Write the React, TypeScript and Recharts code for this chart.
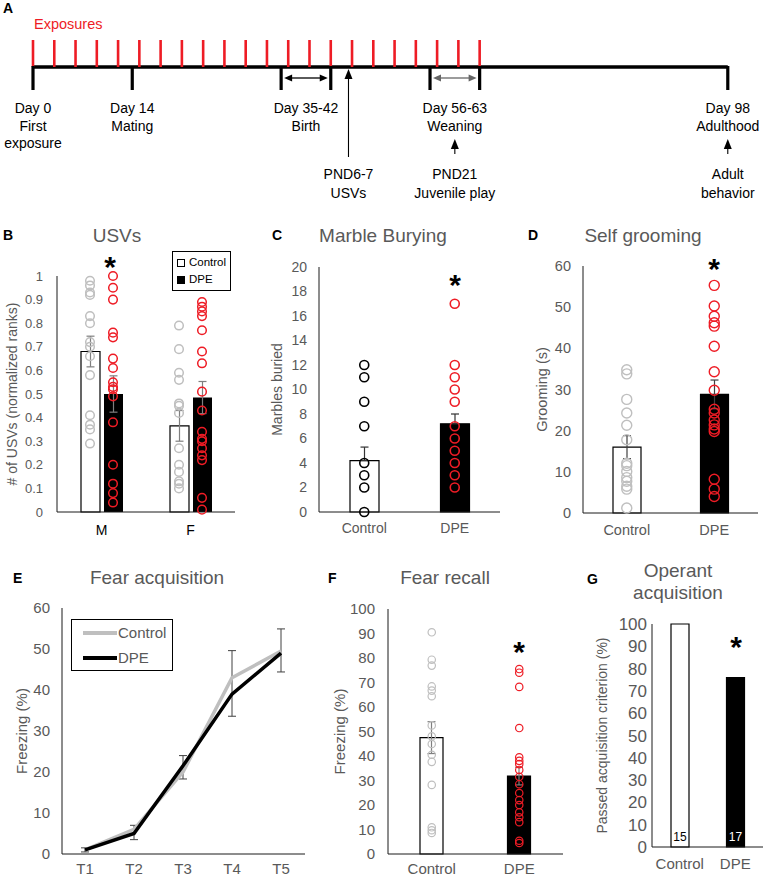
import React from 'react';
import {
  ComposedChart, Bar, Line, Scatter, XAxis, YAxis, ErrorBar, Cell,
  ReferenceLine, ReferenceArea, Legend, LabelList,
} from 'recharts';

const FONT = '"Liberation Sans", Arial, Helvetica, sans-serif';
const TXT = '#595959';
const AXIS = '#1a1a1a';
const RED = '#ee1c25';
const GREY = '#bfbfbf';

// A: timeline (days)
const exposureDays = [0, 3, 6, 9, 12, 15, 18, 21, 24, 27, 30, 33, 36, 39, 42, 45, 48, 51, 54, 57, 60, 63];
const milestoneDays = [0, 14, 35, 42, 56, 63, 98];
const milestoneText = [
  { day: 0, lines: ['Day 0', 'First', 'exposure'] },
  { day: 14, lines: ['Day 14', 'Mating'] },
  { day: 38.5, lines: ['Day 35-42', 'Birth'] },
  { day: 59.5, lines: ['Day 56-63', 'Weaning'] },
  { day: 98, lines: ['Day 98', 'Adulthood'] },
];
const windowDays = [[35, 42], [56, 63]];
const testText = [
  { day: 44.5, lines: ['PND6-7', 'USVs'] },
  { day: 59.5, lines: ['PND21', 'Juvenile play'] },
  { day: 98, lines: ['Adult', 'behavior'] },
];

// B: USVs
const usvGroups = ['M', 'F'];
const usvControlMean = [0.68, 0.365];
const usvDpeMean = [0.5, 0.485];
const usvControlSem = [0.065, 0.065];
const usvDpeSem = [0.077, 0.068];
const usvControlM = [0.98, 0.96, 0.93, 0.92, 0.83, 0.8, 0.72, 0.7, 0.66, 0.58, 0.41, 0.37, 0.35, 0.29];
const usvDpeM = [1, 0.95, 0.9, 0.76, 0.74, 0.65, 0.61, 0.55, 0.53, 0.52, 0.49, 0.38, 0.2, 0.12, 0.08, 0.04];
const usvControlF = [0.79, 0.69, 0.59, 0.56, 0.46, 0.45, 0.42, 0.27, 0.2, 0.17, 0.13, 0.12, 0.1];
const usvDpeF = [0.89, 0.87, 0.85, 0.83, 0.77, 0.68, 0.63, 0.51, 0.43, 0.34, 0.31, 0.3, 0.27, 0.24, 0.22, 0.06, 0.01];
const usvTicks = [0, 0.1, 0.2, 0.3, 0.4, 0.5, 0.6, 0.7, 0.8, 0.9, 1];

// C, D, F, G share the two groups
const groups = ['Control', 'DPE'];

// C: marble burying
const marbleMean = [4.2, 7.2];
const marbleSem = [[0, 1.1], [0, 0.8]];
const marbleControl = [12, 11, 9, 7, 4, 3, 2, 0];
const marbleDpe = [17, 12, 11, 10, 9, 7, 6, 5, 4, 3, 2];
const marbleTicks = [0, 2, 4, 6, 8, 10, 12, 14, 16, 18, 20];

// D: self grooming
const groomMean = [16, 28.8];
const groomSem = [2.8, 3.5];
const groomControl = [34.8, 33.8, 27.6, 24.3, 21.3, 17.8, 12.1, 11.5, 10.1, 8.6, 7.7, 6.5, 5.8, 1.2];
const groomDpe = [55.3, 50.3, 47.8, 46.2, 45.4, 40.5, 34.3, 29.8, 25.2, 24.3, 22.6, 21.4, 20.4, 19.8, 8.2, 5.8, 4];
const sixtyTicks = [0, 10, 20, 30, 40, 50, 60];

// E: fear acquisition
const trials = ['T1', 'T2', 'T3', 'T4', 'T5'];
const fearControl = [1, 6, 20, 43, 49.5];
const fearDpe = [1, 5, 21.5, 39, 49];
const fearSem = [[0.5, 0.5], [2.5, 1], [1.7, 4], [9.4, 6.6], [5.1, 5.4]];

// F: fear recall
const recallMean = [47.5, 31.8];
const recallSem = [6.5, 3.6];
const recallControl = [90.5, 79.3, 76.9, 68.4, 66.7, 64.4, 52.5, 48, 44.9, 40.5, 37.6, 28.2, 10.9, 9.7, 8.6];
const recallDpe = [75.5, 74, 68.2, 51.4, 39.5, 38, 36.7, 34.3, 31.5, 28.5, 24.9, 22, 20, 17, 15, 13, 5.4, 4.5];
const hundredTicks = [0, 10, 20, 30, 40, 50, 60, 70, 80, 90, 100];

// G: operant acquisition
const passedPct = [100, 76];
const passedN = [15, 17];

const ring = (color: string, r: number, dx = 0, sw = 1.4) => (p: any) => (
  <circle cx={p.cx + dx} cy={p.cy} r={r} fill="none" stroke={color} strokeWidth={sw} />
);

const vLabel = (text: string, x: number, y: number, size: number) => () => (
  <text x={x} y={y} transform={`rotate(-90 ${x} ${y})`} textAnchor="middle"
    dominantBaseline="central" fontSize={size} fill={TXT}>{text}</text>
);

// ---------- A ----------
const RedTick = (p: any) => (
  <line x1={p.cx} x2={p.cx} y1={p.cy - 27} y2={p.cy} stroke={RED} strokeWidth={2.6} />
);
const BlackTick = (p: any) => (
  <line x1={p.cx} x2={p.cx} y1={p.cy - 1} y2={p.cy + 23} stroke="#000" strokeWidth={3.2} />
);
const Lines = ({ x, y, lines, step }: any) => (
  <g>
    {lines.map((s: string, i: number) => (
      <text key={i} x={x} y={y + i * step} textAnchor="middle" fontSize={14} fill="#000">{s}</text>
    ))}
  </g>
);
const MilestoneLabel = (p: any) => {
  const d = p.payload ?? p;
  return <Lines x={p.cx} y={p.cy + 46} lines={d.lines} step={17.5} />;
};
const TestMark = (p: any) => {
  const d = p.payload ?? p;
  const { cx, cy } = p;
  const toLine = !milestoneText.some((m) => Math.abs(m.day - d.day) < 2);
  const tip = toLine ? cy + 2 : cy + 72;
  const bottom = toLine ? cy + 90 : cy + 87;
  return (
    <g>
      <line x1={cx} x2={cx} y1={tip + 8} y2={bottom} stroke="#000" strokeWidth={1.1} />
      <polygon points={`${cx},${tip} ${cx - 4},${tip + 10} ${cx + 4},${tip + 10}`} fill="#000" />
      <Lines x={cx} y={cy + 112} lines={d.lines} step={19} />
    </g>
  );
};
const DoubleArrow = (color: string) => (p: any) => {
  const y = p.y + p.height + 11;
  const x1 = p.x + 3;
  const x2 = p.x + p.width - 3;
  return (
    <g>
      <line x1={x1 + 6} x2={x2 - 6} y1={y} y2={y} stroke={color} strokeWidth={1.3} />
      <polygon points={`${x1},${y} ${x1 + 8},${y - 3.5} ${x1 + 8},${y + 3.5}`} fill={color} />
      <polygon points={`${x2},${y} ${x2 - 8},${y - 3.5} ${x2 - 8},${y + 3.5}`} fill={color} />
    </g>
  );
};

function Timeline() {
  const exp = exposureDays.map((day) => ({ day, y: 0 }));
  const mil = milestoneDays.map((day) => ({ day, y: 0 }));
  const labs = milestoneText.map((m) => ({ ...m, y: 0 }));
  const tests = testText.map((t) => ({ ...t, y: 0 }));
  return (
    <div style={{ position: 'absolute', left: 0, top: 0 }}>
      <ComposedChart width={777} height={210} margin={{ top: 17, right: 40, bottom: 143, left: 33 }}>
        <XAxis type="number" dataKey="day" domain={[0, 99.3]} hide />
        <YAxis type="number" dataKey="y" domain={[0, 1]} hide />
        {windowDays.map((w, i) => (
          <ReferenceArea key={i} x1={w[0]} x2={w[1]} shape={DoubleArrow(i ? '#666' : '#000')} />
        ))}
        <Scatter data={exp} shape={RedTick} isAnimationActive={false} />
        <ReferenceLine segment={[{ x: 0, y: 0 }, { x: 98, y: 0 }]} stroke="#000" strokeWidth={3.3} />
        <Scatter data={mil} shape={BlackTick} isAnimationActive={false} />
        <Scatter data={labs} shape={MilestoneLabel} isAnimationActive={false} />
        <Scatter data={tests} shape={TestMark} isAnimationActive={false} />
      </ComposedChart>
    </div>
  );
}

// ---------- legends ----------
const BoxLegend = (props: any) => {
  const items = (props.payload || []).filter((e: any) => e.type !== 'none');
  return (
    <div style={{ border: '1.5px solid #000', padding: '2px 4px', background: '#fff', fontSize: 11.5, lineHeight: '17px', color: '#000' }}>
      {items.map((e: any) => (
        <div key={e.value} style={{ display: 'flex', alignItems: 'center' }}>
          <span style={{ display: 'inline-block', width: 6, height: 6, border: '1.5px solid #000', background: e.color, marginRight: 4 }} />
          {e.value}
        </div>
      ))}
    </div>
  );
};

const LineLegend = (props: any) => {
  const items = (props.payload || []).filter((e: any) => e.type !== 'none');
  return (
    <div style={{ border: '1px solid #000', padding: '0 6px 0 11px', background: '#fff', fontSize: 15, lineHeight: '25px', color: TXT }}>
      {items.map((e: any) => (
        <div key={e.value} style={{ display: 'flex', alignItems: 'center' }}>
          <span style={{ display: 'inline-block', width: 34, height: 4, background: e.color, marginRight: 1 }} />
          {e.value}
        </div>
      ))}
    </div>
  );
};

// ---------- B ----------
function UsvChart() {
  const rows = usvGroups.map((g, i) => ({
    g, control: usvControlMean[i], dpe: usvDpeMean[i], cSem: usvControlSem[i], dSem: usvDpeSem[i],
  }));
  const cPts = [...usvControlM.map((v) => ({ g: 'M', v })), ...usvControlF.map((v) => ({ g: 'F', v }))];
  const dPts = [...usvDpeM.map((v) => ({ g: 'M', v })), ...usvDpeF.map((v) => ({ g: 'F', v }))];
  return (
    <div style={{ position: 'absolute', left: 0, top: 240 }}>
      <ComposedChart width={250} height={300} data={rows} margin={{ top: 36, right: 15, bottom: 0, left: 0 }} barGap={4}>
        <XAxis dataKey="g" allowDuplicatedCategory={false} height={28} tickLine={false} tickSize={0} tickMargin={13}
          axisLine={{ stroke: AXIS }} tick={{ fill: '#000', fontSize: 14 }} interval={0} />
        <YAxis type="number" domain={[0, 1]} ticks={usvTicks} width={57} tickLine={false} tickSize={0} tickMargin={14}
          axisLine={{ stroke: AXIS }} tick={{ fill: TXT, fontSize: 13 }} interval={0}
          label={vLabel('# of USVs (normalized ranks)', 12, 154, 14)} />
        <Legend content={BoxLegend} layout="vertical" align="center" verticalAlign="middle"
          wrapperStyle={{ left: 172, top: 11, width: 'auto' }} />
        <Bar dataKey="control" name="Control" barSize={19} fill="#fff" stroke="#000" strokeWidth={1.2} isAnimationActive={false}>
          <ErrorBar dataKey="cSem" width={4} stroke="#7f7f7f" strokeWidth={1.2} />
        </Bar>
        <Bar dataKey="dpe" name="DPE" barSize={19} fill="#000" isAnimationActive={false}>
          <ErrorBar dataKey="dSem" width={4} stroke="#7f7f7f" strokeWidth={1.2} />
        </Bar>
        <Scatter data={cPts} dataKey="v" legendType="none" shape={ring(GREY, 4.3, -11.5, 1.5)} isAnimationActive={false} />
        <Scatter data={dPts} dataKey="v" legendType="none" shape={ring(RED, 4.3, 11.5, 1.5)} isAnimationActive={false} />
      </ComposedChart>
    </div>
  );
}

// ---------- C, D, F ----------
function DotBarChart(props: any) {
  const { left, top, width, height, margin, yWidth, xHeight, ticks, tickFont, tickGap, xTickGap, xTickFont,
    yLabel, yLabelX, yLabelFont, mean, sem, controlPts, dpePts, controlColor, r, sw, barSize, errColor } = props;
  const rows = groups.map((g, i) => ({ g, mean: mean[i], sem: sem[i] }));
  const cPts = controlPts.map((v: number) => ({ g: groups[0], v }));
  const dPts = dpePts.map((v: number) => ({ g: groups[1], v }));
  const midY = (margin.top + height - margin.bottom - xHeight) / 2;
  return (
    <div style={{ position: 'absolute', left, top }}>
      <ComposedChart width={width} height={height} data={rows} margin={margin}>
        <XAxis dataKey="g" allowDuplicatedCategory={false} height={xHeight} tickLine={false} tickSize={0} tickMargin={xTickGap}
          axisLine={{ stroke: AXIS }} tick={{ fill: TXT, fontSize: xTickFont }} interval={0} />
        <YAxis type="number" domain={[ticks[0], ticks[ticks.length - 1]]} ticks={ticks} width={yWidth} tickLine={false}
          tickSize={0} tickMargin={tickGap} axisLine={{ stroke: AXIS }} tick={{ fill: TXT, fontSize: tickFont }} interval={0}
          label={vLabel(yLabel, yLabelX, midY, yLabelFont)} />
        <Bar dataKey="mean" barSize={barSize} isAnimationActive={false}>
          {rows.map((_, i) => <Cell key={i} fill={i ? '#000' : '#fff'} stroke="#000" strokeWidth={1.2} />)}
          <ErrorBar dataKey="sem" width={4} stroke={errColor} strokeWidth={1.2} />
        </Bar>
        <Scatter data={cPts} dataKey="v" legendType="none" shape={ring(controlColor, r, 0, sw)} isAnimationActive={false} />
        <Scatter data={dPts} dataKey="v" legendType="none" shape={ring(RED, r, 0, sw)} isAnimationActive={false} />
      </ComposedChart>
    </div>
  );
}

// ---------- E ----------
function FearAcqChart() {
  const rows = trials.map((t, i) => ({ t, control: fearControl[i], dpe: fearDpe[i], sem: fearSem[i] }));
  return (
    <div style={{ position: 'absolute', left: 0, top: 590 }}>
      <ComposedChart width={310} height={288} data={rows} margin={{ top: 18, right: 5, bottom: 0, left: 0 }}>
        <XAxis dataKey="t" padding={{ left: 23, right: 24 }} height={24} tickLine={false} tickSize={0} tickMargin={9}
          axisLine={{ stroke: AXIS }} tick={{ fill: TXT, fontSize: 15 }} interval={0} />
        <YAxis type="number" domain={[0, 60]} ticks={sixtyTicks} width={62} tickLine={false} tickSize={0} tickMargin={12}
          axisLine={{ stroke: AXIS }} tick={{ fill: TXT, fontSize: 15 }} interval={0}
          label={vLabel('Freezing (%)', 21, 141, 15)} />
        <Legend content={LineLegend} layout="vertical" align="center" verticalAlign="middle"
          wrapperStyle={{ left: 71, top: 29, width: 'auto' }} />
        <Line dataKey="control" name="Control" stroke={GREY} strokeWidth={3.5} dot={false} isAnimationActive={false}>
          <ErrorBar dataKey="sem" width={4} stroke="#404040" strokeWidth={1} />
        </Line>
        <Line dataKey="dpe" name="DPE" stroke="#000" strokeWidth={3.5} dot={false} isAnimationActive={false} />
      </ComposedChart>
    </div>
  );
}

// ---------- G ----------
function OperantChart() {
  const rows = groups.map((g, i) => ({ g, pct: passedPct[i], n: passedN[i] }));
  return (
    <div style={{ position: 'absolute', left: 580, top: 610 }}>
      <ComposedChart width={197} height={268} data={rows} margin={{ top: 14, right: 14, bottom: 0, left: 0 }}>
        <XAxis dataKey="g" height={31} tickLine={false} tickSize={0} tickMargin={11}
          axisLine={{ stroke: AXIS }} tick={{ fill: TXT, fontSize: 15 }} interval={0} />
        <YAxis type="number" domain={[0, 100]} ticks={hundredTicks} width={72} tickLine={false} tickSize={0} tickMargin={5}
          axisLine={{ stroke: AXIS }} tick={{ fill: TXT, fontSize: 17 }} interval={0}
          label={vLabel('Passed acquisition criterion (%)', 22, 125.5, 14)} />
        <Bar dataKey="pct" barSize={18} isAnimationActive={false}>
          {rows.map((_, i) => <Cell key={i} fill={i ? '#000' : '#fff'} stroke="#000" strokeWidth={1.2} />)}
          <LabelList dataKey="n" content={(p: any) => (
            <text x={p.x + p.width / 2} y={p.y + p.height - 6} textAnchor="middle" fontSize={12}
              fill={p.index ? '#fff' : '#000'}>{p.value}</text>
          )} />
        </Bar>
      </ComposedChart>
    </div>
  );
}

function Overlay() {
  const letter = (t: string, x: number, y: number) => (
    <text x={x} y={y} fontSize={14} fontWeight="bold" fill="#000">{t}</text>
  );
  const title = (t: string, x: number, y: number) => (
    <text x={x} y={y} fontSize={19} textAnchor="middle" fill={TXT}>{t}</text>
  );
  const star = (x: number, y: number) => (
    <text x={x} y={y + 16.5} fontSize={30} fontWeight="bold" textAnchor="middle" fill="#000">*</text>
  );
  return (
    <svg width={777} height={878} style={{ position: 'absolute', left: 0, top: 0, pointerEvents: 'none' }}>
      {letter('A', 3, 13)}
      <text x={34} y={29} fontSize={14.5} fill={RED}>Exposures</text>
      {letter('B', 3, 240)}
      {title('USVs', 117, 242)}
      {letter('C', 272, 240)}
      {title('Marble Burying', 383, 242)}
      {letter('D', 528, 240)}
      {title('Self grooming', 643, 242)}
      {letter('E', 13, 583)}
      {title('Fear acquisition', 157, 584)}
      {letter('F', 328, 583)}
      {title('Fear recall', 445, 584)}
      {letter('G', 587, 584)}
      {title('Operant', 678, 577)}
      {title('acquisition', 678, 599)}
      {star(110, 260)}
      {star(455, 278)}
      {star(714, 262)}
      {star(519, 645)}
      {star(736, 640)}
    </svg>
  );
}

export default function App() {
  return (
    <div style={{ position: 'absolute', left: 0, top: 0, width: 777, height: 878, background: '#fff', fontFamily: FONT }}>
      <Timeline />
      <UsvChart />
      <DotBarChart left={260} top={240} width={250} height={300} margin={{ top: 27, right: 10, bottom: 0, left: 0 }}
        yWidth={59} xHeight={28} ticks={marbleTicks} tickFont={14} tickGap={12} xTickGap={11} xTickFont={14}
        yLabel="Marbles buried" yLabelX={17} yLabelFont={14} mean={marbleMean} sem={marbleSem}
        controlPts={marbleControl} dpePts={marbleDpe} controlColor="#000" r={4.5} sw={1.6} barSize={29} errColor="#333" />
      <DotBarChart left={520} top={240} width={257} height={300} margin={{ top: 26, right: 19, bottom: 0, left: 0 }}
        yWidth={63} xHeight={27} ticks={sixtyTicks} tickFont={14.5} tickGap={12} xTickGap={12} xTickFont={14.5}
        yLabel="Grooming (s)" yLabelX={22} yLabelFont={14.5} mean={groomMean} sem={groomSem}
        controlPts={groomControl} dpePts={groomDpe} controlColor={GREY} r={5} sw={1.4} barSize={28} errColor="#404040" />
      <FearAcqChart />
      <DotBarChart left={320} top={590} width={250} height={288} margin={{ top: 19, right: 7, bottom: 0, left: 0 }}
        yWidth={68} xHeight={24} ticks={hundredTicks} tickFont={15} tickGap={13} xTickGap={9} xTickFont={15}
        yLabel="Freezing (%)" yLabelX={19} yLabelFont={15} mean={recallMean} sem={recallSem}
        controlPts={recallControl} dpePts={recallDpe} controlColor={GREY} r={3.7} sw={1.2} barSize={23} errColor="#7f7f7f" />
      <OperantChart />
      <Overlay />
    </div>
  );
}
